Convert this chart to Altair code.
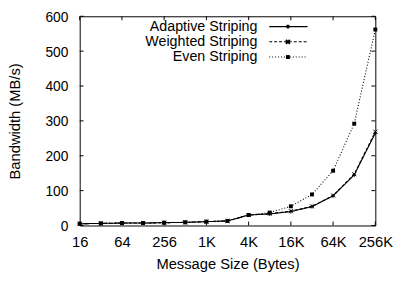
import altair as alt
import pandas as pd

# ---- data ----
sizes = [16, 32, 64, 128, 256, 512, 1024, 2048, 4096, 8192, 16384, 32768, 65536, 131072, 262144]
adaptive = [5, 6, 7, 7, 8, 9, 11, 13, 30, 33, 40, 54, 85, 145, 265]
weighted = [5, 6, 7, 7, 8, 9, 11, 13, 30, 34, 41, 55, 86, 147, 269]
even = [5, 6, 7, 7, 8, 9, 11, 13, 30, 37, 55, 89, 157, 292, 562]

series_names = ["Adaptive Striping", "Weighted Striping", "Even Striping"]
x_tick_values = [16, 64, 256, 1024, 4096, 16384, 65536, 262144]
x_tick_labels = ["16", "64", "256", "1K", "4K", "16K", "64K", "256K"]
y_tick_values = [0, 100, 200, 300, 400, 500, 600]

W, H = 301, 213
FONT = "Liberation Sans"
TICK = 4

rows = []
for name, vals in zip(series_names, [adaptive, weighted, even]):
    for s, v in zip(sizes, vals):
        rows.append({"size": s, "bw": v, "series": name})
df = pd.DataFrame(rows)

label_expr = " : ".join(
    f"datum.value == {v} ? '{l}'" for v, l in zip(x_tick_values, x_tick_labels)
) + " : ''"

xscale = alt.Scale(type="log", base=2, domain=[16, 262144], nice=False)
yscale = alt.Scale(domain=[0, 600], nice=False)

xenc = alt.X("size:Q", scale=xscale,
             axis=alt.Axis(values=x_tick_values, labelExpr=label_expr,
                           title="Message Size (Bytes)", labelPadding=9,
                           titlePadding=8, labelFlush=False, labelOverlap=False))
yenc = alt.Y("bw:Q", scale=yscale,
             axis=alt.Axis(values=y_tick_values, title="Bandwidth (MB/s)",
                           labelPadding=12, titlePadding=23, labelOffset=1))

dashes = {"Adaptive Striping": [1, 0], "Weighted Striping": [3, 2], "Even Striping": [1, 2]}
shapes = {
    "Adaptive Striping": "M-1,0L1,0M0,-1L0,1",
    "Weighted Striping": "M-1,-1L1,1M-1,1L1,-1",
    "Even Striping": "square",
}

layers = []
for name in series_names:
    sub = df[df.series == name]
    base = alt.Chart(sub)
    line = base.mark_line(color="black", strokeWidth=1.1,
                          strokeDash=dashes[name]).encode(x=xenc, y=yenc)
    if name == "Even Striping":
        pts = base.mark_point(shape="square", filled=True, color="black",
                              size=16, opacity=1).encode(x=xenc, y=yenc)
    else:
        pts = base.mark_point(shape=shapes[name], filled=False, color="black",
                              size=16, strokeWidth=1, opacity=1).encode(x=xenc, y=yenc)
    layers += [line, pts]

# inward ticks on all four sides
xt = alt.Chart(pd.DataFrame({"size": x_tick_values}))
yt = alt.Chart(pd.DataFrame({"bw": y_tick_values}))
layers.append(xt.mark_rule(color="black").encode(x=xenc, y=alt.value(H), y2=alt.value(H - TICK)))
layers.append(xt.mark_rule(color="black").encode(x=xenc, y=alt.value(0), y2=alt.value(TICK)))
layers.append(yt.mark_rule(color="black").encode(y=yenc, x=alt.value(0), x2=alt.value(TICK)))
layers.append(yt.mark_rule(color="black").encode(y=yenc, x=alt.value(W), x2=alt.value(W - TICK)))

# legend (top-left, inside plot)
leg_y = [10.5, 26, 41.5]
for i, name in enumerate(series_names):
    ld = alt.Chart(pd.DataFrame({"series": [name]}))
    layers.append(ld.mark_text(align="right", baseline="middle", font=FONT,
                               fontSize=14.5, color="black").encode(
        text="series:N", x=alt.value(181), y=alt.value(leg_y[i])))
    layers.append(ld.mark_rule(color="black", strokeWidth=1.1,
                               strokeDash=dashes[name]).encode(
        x=alt.value(193), x2=alt.value(232), y=alt.value(leg_y[i])))
    if name == "Even Striping":
        layers.append(ld.mark_point(shape="square", filled=True, color="black",
                                    size=16, opacity=1).encode(
            x=alt.value(212), y=alt.value(leg_y[i])))
    else:
        layers.append(ld.mark_point(shape=shapes[name], filled=False, color="black",
                                    size=16, opacity=1).encode(
            x=alt.value(212), y=alt.value(leg_y[i])))

chart = alt.layer(*layers).properties(
    width=W, height=H,
    autosize=alt.AutoSizeParams(type="none"),
    padding={"left": 73, "top": 6, "right": 18, "bottom": 49},
).configure_view(stroke="black", strokeWidth=1).configure_axis(
    domain=False, ticks=False, grid=False,
    labelFont=FONT, titleFont=FONT, labelFontSize=15, titleFontSize=15,
    titleFontWeight="normal", labelColor="black", titleColor="black",
).configure_axisY(labelFontSize=14)

chart.save("out.html", embed_options={"renderer": "svg", "actions": False})
